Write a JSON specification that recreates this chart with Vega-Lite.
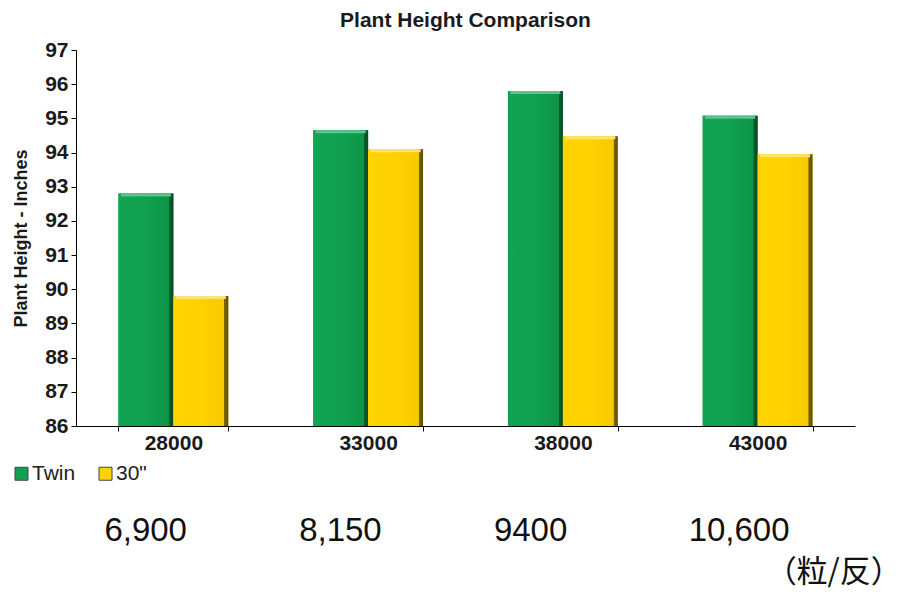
{
  "$schema": "https://vega.github.io/schema/vega-lite/v6.json",
  "width": 779,
  "height": 376,
  "autosize": {"type": "none"},
  "padding": {"left": 76, "top": 50, "right": 53, "bottom": 168},
  "background": "white",
  "config": {
    "view": {"stroke": null},
    "font": "Liberation Sans",
    "axis": {"labelOverlap": false, "tickColor": "#000", "domainColor": "#000", "grid": false, "ticks": true, "tickSize": 5},
    "axisY": {"tickCount": 12, "labelOverlap": false}
  },
  "title": {"text": "Plant Height Comparison", "fontSize": 21, "fontWeight": "bold", "font": "Liberation Sans", "color": "#1a1a1a", "anchor": "middle", "frame": "group", "offset": 8},
  "datasets": {
    "bars": [
      {"density": "28000", "system": "Twin", "height": 92.8},
      {"density": "28000", "system": "30\"", "height": 89.8},
      {"density": "33000", "system": "Twin", "height": 94.65},
      {"density": "33000", "system": "30\"", "height": 94.1},
      {"density": "38000", "system": "Twin", "height": 95.8},
      {"density": "38000", "system": "30\"", "height": 94.48},
      {"density": "43000", "system": "Twin", "height": 95.08},
      {"density": "43000", "system": "30\"", "height": 93.95}
    ],
    "seeds": [
      {"density": "28000", "seeds": "6,900"},
      {"density": "33000", "seeds": "8,150"},
      {"density": "38000", "seeds": "9400"},
      {"density": "43000", "seeds": "10,600"}
    ]
  },
  "layer": [
    {
      "data": {"name": "bars"},
      "mark": {"type": "bar"},
      "encoding": {
        "x": {"field": "density", "type": "nominal", "scale": {"domain": ["28000", "33000", "38000", "43000"], "paddingInner": 0.436, "paddingOuter": 0.218},
          "axis": {"title": null, "labelFontSize": 21, "labelFontWeight": "bold", "labelColor": "#1a1a1a", "labelPadding": 1, "tickSize": 5, "tickBand": "extent", "labelAngle": 0}},
        "xOffset": {"field": "system", "type": "nominal", "scale": {"domain": ["Twin", "30\""], "paddingInner": 0, "paddingOuter": 0}},
        "y": {"field": "height", "type": "quantitative", "scale": {"domain": [86, 97], "nice": false, "zero": false},
          "axis": {"title": "Plant Height - Inches", "titleFontSize": 18, "titleFontWeight": "bold", "titleColor": "#1a1a1a", "titlePadding": 14, "values": [86, 87, 88, 89, 90, 91, 92, 93, 94, 95, 96, 97], "labelOverlap": false, "labelFontSize": 21, "labelFontWeight": "bold", "labelColor": "#1a1a1a", "labelPadding": 3, "tickSize": 5}},
        "y2": {"datum": 86},
        "color": {"field": "system", "type": "nominal", "scale": {"domain": ["Twin", "30\""], "range": ["#10a04f", "#ffd200"]},
          "legend": {"orient": "none", "legendX": -65, "legendY": 413, "direction": "horizontal", "title": null, "symbolType": "square", "symbolSize": 169, "labelFontSize": 21, "labelFont": "Liberation Sans", "labelColor": "#222", "labelOffset": 0, "columnPadding": 19, "symbolStrokeColor": "#444", "symbolStrokeWidth": 1, "symbolOpacity": 1}}
      }
    },
    {
      "data": {"name": "bars"},
      "transform": [{"filter": "datum.system === 'Twin'"}],
      "mark": {"type": "bar", "color": {"gradient": "linear", "x1": 0, "x2": 1, "y1": 0, "y2": 0, "stops": [
        {"offset": 0, "color": "#13a453"},
        {"offset": 0.5, "color": "#10a04f"},
        {"offset": 0.92, "color": "#0d9448"},
        {"offset": 0.93, "color": "#0b5c2e"},
        {"offset": 1, "color": "#094a24"}]}},
      "encoding": {
        "x": {"field": "density", "type": "nominal",
          "axis": {"title": null, "labelFontSize": 21, "labelFontWeight": "bold", "labelColor": "#1a1a1a", "labelPadding": 1, "tickSize": 5, "tickBand": "extent", "labelAngle": 0}},
        "xOffset": {"field": "system", "type": "nominal"},
        "y": {"field": "height", "type": "quantitative",
          "axis": {"title": "Plant Height - Inches", "titleFontSize": 18, "titleFontWeight": "bold", "titleColor": "#1a1a1a", "titlePadding": 14, "values": [86, 87, 88, 89, 90, 91, 92, 93, 94, 95, 96, 97], "labelOverlap": false, "labelFontSize": 21, "labelFontWeight": "bold", "labelColor": "#1a1a1a", "labelPadding": 3, "tickSize": 5}},
        "y2": {"datum": 86}
      }
    },
    {
      "data": {"name": "bars"},
      "transform": [{"filter": "datum.system !== 'Twin'"}],
      "mark": {"type": "bar", "color": {"gradient": "linear", "x1": 0, "x2": 1, "y1": 0, "y2": 0, "stops": [
        {"offset": 0, "color": "#ffd400"},
        {"offset": 0.5, "color": "#ffd200"},
        {"offset": 0.92, "color": "#f6ca00"},
        {"offset": 0.93, "color": "#7a6500"},
        {"offset": 1, "color": "#5e4e00"}]}},
      "encoding": {
        "x": {"field": "density", "type": "nominal",
          "axis": {"title": null, "labelFontSize": 21, "labelFontWeight": "bold", "labelColor": "#1a1a1a", "labelPadding": 1, "tickSize": 5, "tickBand": "extent", "labelAngle": 0}},
        "xOffset": {"field": "system", "type": "nominal"},
        "y": {"field": "height", "type": "quantitative",
          "axis": {"title": "Plant Height - Inches", "titleFontSize": 18, "titleFontWeight": "bold", "titleColor": "#1a1a1a", "titlePadding": 14, "values": [86, 87, 88, 89, 90, 91, 92, 93, 94, 95, 96, 97], "labelOverlap": false, "labelFontSize": 21, "labelFontWeight": "bold", "labelColor": "#1a1a1a", "labelPadding": 3, "tickSize": 5}},
        "y2": {"datum": 86}
      }
    },
    {
      "data": {"name": "bars"},
      "mark": {"type": "tick", "thickness": 3, "size": 50, "yOffset": 1.5, "opacity": 1},
      "encoding": {
        "x": {"field": "density", "type": "nominal",
          "axis": {"title": null, "labelFontSize": 21, "labelFontWeight": "bold", "labelColor": "#1a1a1a", "labelPadding": 1, "tickSize": 5, "tickBand": "extent", "labelAngle": 0}},
        "xOffset": {"field": "system", "type": "nominal"},
        "y": {"field": "height", "type": "quantitative",
          "axis": {"title": "Plant Height - Inches", "titleFontSize": 18, "titleFontWeight": "bold", "titleColor": "#1a1a1a", "titlePadding": 14, "values": [86, 87, 88, 89, 90, 91, 92, 93, 94, 95, 96, 97], "labelOverlap": false, "labelFontSize": 21, "labelFontWeight": "bold", "labelColor": "#1a1a1a", "labelPadding": 3, "tickSize": 5}},
        "fill": {"field": "system", "type": "nominal", "scale": {"domain": ["Twin", "30\""], "range": ["#5ec28c", "#ffe370"]}, "legend": null}
      }
    },
    {
      "data": {"name": "seeds"},
      "mark": {"type": "text", "align": "left", "dx": -69, "baseline": "alphabetic", "fontSize": 33, "font": "Liberation Sans", "color": "#111"},
      "encoding": {
        "x": {"field": "density", "type": "nominal",
          "axis": {"title": null, "labelFontSize": 21, "labelFontWeight": "bold", "labelColor": "#1a1a1a", "labelPadding": 1, "tickSize": 5, "tickBand": "extent", "labelAngle": 0}},
        "y": {"datum": 82.64, "type": "quantitative",
          "axis": {"title": "Plant Height - Inches", "titleFontSize": 18, "titleFontWeight": "bold", "titleColor": "#1a1a1a", "titlePadding": 14, "values": [86, 87, 88, 89, 90, 91, 92, 93, 94, 95, 96, 97], "labelOverlap": false, "labelFontSize": 21, "labelFontWeight": "bold", "labelColor": "#1a1a1a", "labelPadding": 3, "tickSize": 5}},
        "text": {"field": "seeds"}
      }
    },
    {
      "data": {"values": [{"t": "（粒/反）"}]},
      "mark": {"type": "text", "align": "left", "dx": 8, "baseline": "alphabetic", "fontSize": 31, "font": "Noto Sans CJK JP", "color": "#111"},
      "encoding": {
        "x": {"datum": "43000", "type": "nominal",
          "axis": {"title": null, "labelFontSize": 21, "labelFontWeight": "bold", "labelColor": "#1a1a1a", "labelPadding": 1, "tickSize": 5, "tickBand": "extent", "labelAngle": 0}},
        "y": {"datum": 81.44, "type": "quantitative",
          "axis": {"title": "Plant Height - Inches", "titleFontSize": 18, "titleFontWeight": "bold", "titleColor": "#1a1a1a", "titlePadding": 14, "values": [86, 87, 88, 89, 90, 91, 92, 93, 94, 95, 96, 97], "labelOverlap": false, "labelFontSize": 21, "labelFontWeight": "bold", "labelColor": "#1a1a1a", "labelPadding": 3, "tickSize": 5}},
        "text": {"field": "t"}
      }
    }
  ]
}
